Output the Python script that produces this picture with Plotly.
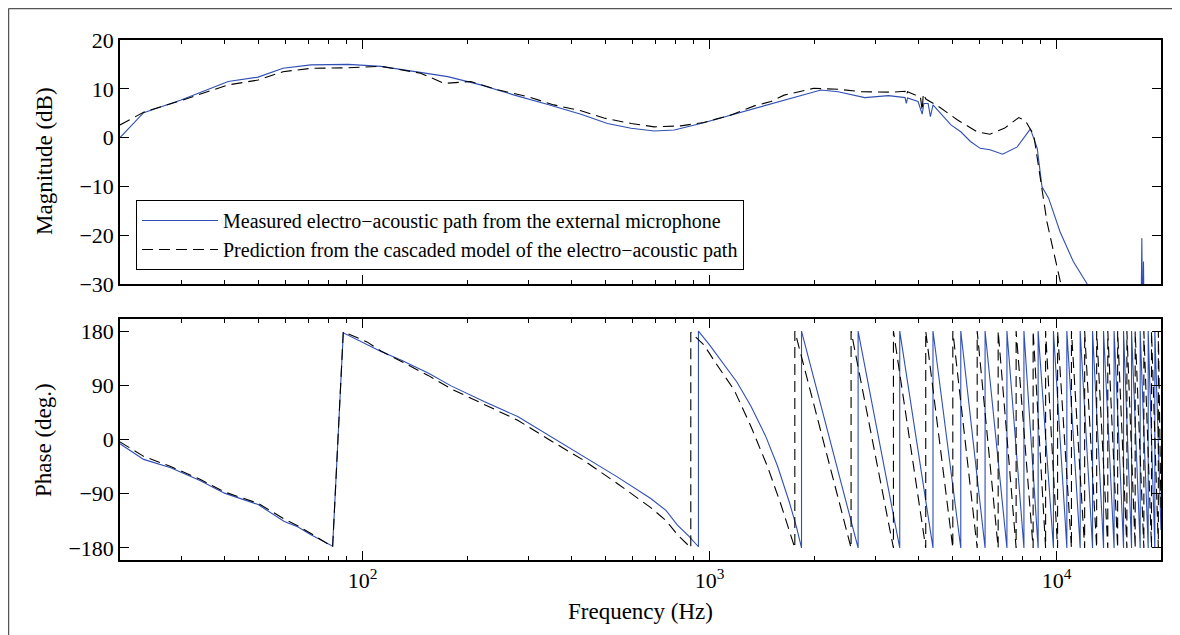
import math
import plotly.graph_objects as go

# ---------------- data ----------------
SERIES_NAMES = [
    "Measured electro\u2212acoustic path from the external microphone",
    "Prediction from the cascaded model of the electro\u2212acoustic path",
]

# Magnitude, measured (Hz, dB)
mag_meas_hz = [20, 23.4, 30, 36, 41, 50, 59, 71, 91, 113, 147, 176, 219, 274, 342,
               426, 508, 594, 693, 791, 944, 1149, 1503, 1713, 2094, 2346, 2802,
               3281, 3660, 3690, 3720, 3989, 4101, 4146, 4265, 4330, 4405, 4962,
               5296, 5649, 6025, 6427, 6993, 7705, 8408, 8797, 9081, 9487, 10235,
               11176, 12215, 12800, 15000, 17500, 17613, 17700, 17805, 17900, 20000]
mag_meas_db = [0.0, 5.1, 7.7, 9.9, 11.5, 12.4, 14.2, 14.9, 15.0, 14.6, 13.4, 12.5,
               10.8, 8.7, 6.8, 4.8, 2.9, 1.9, 1.35, 1.55, 2.9, 4.6, 6.9, 8.0, 9.75,
               9.4, 8.2, 8.6, 8.2, 7.0, 8.1, 7.4, 4.8, 7.0, 7.0, 4.3, 6.7, 2.6, 1.2,
               -0.8, -2.2, -2.5, -3.4, -1.9, 1.8, -2.2, -10.1, -12.4, -19.3, -25.4,
               -29.85, -33, -40, -40, -20.6, -40, -25.4, -40, -40]

# Magnitude, model prediction (Hz, dB)
mag_pred_hz = [20, 21.7, 23.4, 30, 36, 41, 50, 59, 71, 91, 113, 147, 172, 205, 245,
               299, 356, 426, 496, 594, 693, 826, 963, 1149, 1347, 1503, 1640, 1995,
               2346, 2740, 3355, 3660, 3690, 3720, 3900, 4050, 4101, 4130, 4200,
               4545, 5186, 5898, 6427, 7070, 7785, 8144, 8600, 8876, 9380, 9807,
               10137, 10600]
mag_pred_db = [2.6, 4.0, 5.2, 7.6, 9.5, 10.8, 11.8, 13.5, 14.2, 14.3, 14.6, 13.2,
               11.1, 11.5, 9.8, 8.4, 6.7, 5.5, 4.0, 2.9, 2.2, 2.4, 3.1, 4.6, 6.5,
               7.4, 8.7, 10.1, 9.9, 9.4, 9.3, 9.5, 8.6, 9.4, 8.8, 8.5, 5.5, 9.0,
               7.9, 6.5, 3.6, 1.2, 0.7, 1.9, 4.1, 3.4, 0.5, -6.3, -17.2, -23.4,
               -28.2, -34]

# Phase, measured (Hz, degrees, wrapped)
phase_meas_hz = [20, 23.4, 28, 34, 40, 50, 59.5, 65, 71, 82,
                 88, 103, 113, 129, 155, 180, 224, 280, 349, 435, 542, 677, 750, 808, 870, 929,
                 929, 1000, 1076, 1200, 1314, 1450, 1570, 1700, 1780, 1824, 1841,
                 1841, 2680, 2680, 3533, 3533, 4405, 4405, 5297, 5297, 6224,
                 6224, 7195, 7195, 8054, 8054, 8850, 8850, 9796, 9796, 10708,
                 10708, 11698, 11698, 12700, 12700, 13660, 13660, 14650, 14650,
                 15600, 15600, 16450, 16450, 17420, 17420, 18370, 18370, 19200,
                 19200, 20000]
phase_meas_deg = [-7, -33, -47, -68, -89, -108, -136, -145, -158, -177,
                  177, 158, 146, 132, 110, 89, 63, 38, 5, -28, -62, -98, -118, -142, -160, -178,
                  180, 157, 132, 95, 56, 6, -44, -105, -145, -172, -180,
                  180, -180, 180, -180, 180, -180, 180, -180, 180, -180,
                  180, -180, 180, -180, 180, -180, 180, -180, 180, -180,
                  180, -180, 180, -180, 180, -180, 180, -180, 180,
                  -180, 180, -180, 180, -180, 180, -180, 180, -180,
                  180, -150]

# Phase, model prediction (Hz, degrees, wrapped)
phase_pred_hz = [20, 23.4, 28, 34, 40, 50, 59.5, 65, 71, 82,
                 88, 103, 113, 129, 155, 180, 224, 280, 349, 435, 542, 677, 750, 808, 870, 883,
                 883, 963, 1050, 1178, 1320, 1469, 1600, 1713, 1761,
                 1761, 2558, 2558, 3388, 3388, 4198, 4198, 5024, 5024, 5906,
                 5906, 6788, 6788, 7648, 7648, 8561, 8561, 9300, 9300, 10070,
                 10070, 11040, 11040, 12050, 12050, 13050, 13050, 14050, 14050,
                 15000, 15000, 15950, 15950, 16850, 16850, 17850, 17850, 18780,
                 18780, 19650, 19650, 20000]
phase_pred_deg = [-4, -28, -45, -66, -87, -106, -132, -143, -156, -178,
                  179, 162, 147, 130, 106, 84, 58, 32, -2, -35, -73, -113, -135, -158, -176, -180,
                  178, 157, 124, 82, 20, -45, -105, -161, -180,
                  180, -180, 180, -180, 180, -180, 180, -180, 180, -180,
                  180, -180, 180, -180, 180, -180, 180, -180, 180, -180,
                  180, -180, 180, -180, 180, -180, 180, -180, 180,
                  -180, 180, -180, 180, -180, 180, -180, 180, -180,
                  180, -180, 180, -120]

mag_ticks = [-30, -20, -10, 0, 10, 20]
phase_ticks = [-180, -90, 0, 90, 180]
freq_major = [100, 1000, 10000]
freq_major_text = ["10<sup>2</sup>", "10<sup>3</sup>", "10<sup>4</sup>"]
freq_minor = [30, 40, 50, 60, 70, 80, 90,
              200, 300, 400, 500, 600, 700, 800, 900,
              2000, 3000, 4000, 5000, 6000, 7000, 8000, 9000]
freq_range = [20, 20000]

# ---------------- styling / layout ----------------
BLUE = "#2f4fb3"
FONT = "Liberation Serif"
OFF = 8                      # page body margin
W, H = 1180 - OFF, 635 - OFF
ML, MT = 120 - OFF, 40 - OFF
MR = W - (1161 - OFF)
MB = H - (560 - OFF)
PW, PH = W - ML - MR, H - MT - MB


def px(page_x):
    return (page_x - OFF - ML) / PW


def py(page_y):
    return (H - MB - (page_y - OFF)) / PH


def neg(v):
    return f"\u2212{abs(v)}" if v < 0 else str(v)


fig = go.Figure()
fig.add_trace(go.Scatter(x=mag_meas_hz, y=mag_meas_db, mode="lines", name=SERIES_NAMES[0],
                         line=dict(color=BLUE, width=1.1), xaxis="x", yaxis="y"))
fig.add_trace(go.Scatter(x=mag_pred_hz, y=mag_pred_db, mode="lines", name=SERIES_NAMES[1],
                         line=dict(color="black", width=1.1, dash="11px,6px"), xaxis="x", yaxis="y"))
fig.add_trace(go.Scatter(x=phase_meas_hz, y=phase_meas_deg, mode="lines", showlegend=False,
                         line=dict(color=BLUE, width=1.1), xaxis="x2", yaxis="y2"))
fig.add_trace(go.Scatter(x=phase_pred_hz, y=phase_pred_deg, mode="lines", showlegend=False,
                         line=dict(color="black", width=1.1, dash="11px,6px"), xaxis="x2", yaxis="y2"))

TICKFONT = dict(family=FONT, size=22, color="black")
xcommon = dict(type="log", range=[math.log10(freq_range[0]), math.log10(freq_range[1])],
               showline=True, linecolor="black", linewidth=1.6, mirror="ticks",
               ticks="inside", ticklen=9, tickwidth=1, tickcolor="black",
               tickvals=freq_major, showgrid=False, zeroline=False,
               minor=dict(tickvals=freq_minor, ticks="inside", ticklen=4,
                          tickcolor="black", tickwidth=1, showgrid=False),
               tickfont=TICKFONT)
ycommon = dict(showline=True, linecolor="black", linewidth=1.6, mirror="ticks",
               ticks="inside", ticklen=9, tickwidth=1, tickcolor="black",
               showgrid=False, zeroline=False, tickfont=TICKFONT)

fig.update_layout(
    width=W, height=H,
    margin=dict(l=ML, r=MR, t=MT, b=MB),
    paper_bgcolor="white", plot_bgcolor="white",
    font=dict(family=FONT, color="black"),
    xaxis=dict(xcommon, domain=[0, 1], anchor="y", showticklabels=False),
    yaxis=dict(ycommon, domain=[py(284), 1], anchor="x", range=[-30, 20],
               tickvals=mag_ticks, ticktext=[neg(v) for v in mag_ticks]),
    xaxis2=dict(xcommon, domain=[0, 1], anchor="y2", ticktext=freq_major_text),
    yaxis2=dict(ycommon, domain=[0, py(319)], anchor="x2", range=[-200, 200],
                tickvals=phase_ticks, ticktext=[neg(v) for v in phase_ticks]),
    legend=dict(x=px(136), y=py(200), xanchor="left", yanchor="top",
                bgcolor="white", bordercolor="black", borderwidth=1,
                font=dict(family=FONT, size=20, color="black"),
                itemwidth=76, tracegroupgap=0),
    showlegend=True,
)

TITLEFONT = dict(family=FONT, size=23, color="black")
fig.add_annotation(text="Magnitude (dB)", x=px(45), y=py(161), xref="paper", yref="paper",
                   xanchor="center", yanchor="middle",
                   textangle=-90, showarrow=False, font=TITLEFONT)
fig.add_annotation(text="Phase (deg.)", x=px(44), y=py(440), xref="paper", yref="paper",
                   xanchor="center", yanchor="middle",
                   textangle=-90, showarrow=False, font=TITLEFONT)
fig.add_annotation(text="Frequency (Hz)", x=0.5, y=py(611), xref="paper", yref="paper",
                   xanchor="center", yanchor="middle",
                   showarrow=False, font=TITLEFONT)

# outer frame of the original figure (top and left edges)
fig.add_shape(type="line", xref="paper", yref="paper", x0=px(8.5), x1=px(1180), y0=py(8.5), y1=py(8.5),
              line=dict(color="#555555", width=1.5))
fig.add_shape(type="line", xref="paper", yref="paper", x0=px(8.5), x1=px(8.5), y0=py(8.5), y1=py(635),
              line=dict(color="#555555", width=1.5))

fig.write_html("out.html")
